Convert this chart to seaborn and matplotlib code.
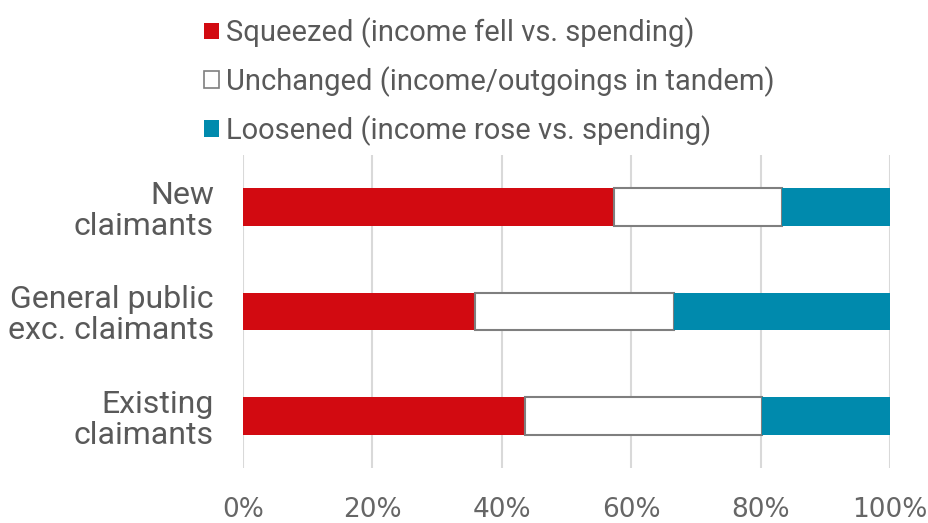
import matplotlib
matplotlib.use("Agg")
import matplotlib.pyplot as plt
from matplotlib.patches import Patch
from matplotlib.ticker import PercentFormatter
import pandas as pd
import seaborn as sns

# values (% of each group)
categories = ["New\nclaimants", "General public\nexc. claimants", "Existing\nclaimants"]
squeezed = [57.4, 35.9, 43.6]
unchanged = [25.9, 30.7, 36.6]
loosened = [16.7, 33.4, 19.8]

series_labels = [
    "Squeezed (income fell vs. spending)",
    "Unchanged (income/outgoings in tandem)",
    "Loosened (income rose vs. spending)",
]
x_ticks = [0, 20, 40, 60, 80, 100]

RED = "#D20A11"
TEAL = "#008AAD"
EDGE_GREY = "#7F7F7F"
TEXT_GREY = "#595959"
TICK_GREY = "#666666"
GRID_GREY = "#D9D9D9"

sns.set_theme(style="white")
plt.rcParams["font.family"] = ["Roboto", "DejaVu Sans"]

df = pd.DataFrame({
    "group": categories,
    "squeezed": squeezed,
    "unchanged": unchanged,
    "loosened": loosened,
})
df["left_unchanged"] = df["squeezed"]
df["left_loosened"] = df["squeezed"] + df["unchanged"]

fig = plt.figure(figsize=(9.29, 5.23), dpi=100)
ax = fig.add_axes([0.2616, 0.1052, 0.6964, 0.5984])

bar_w = 0.36
sns.barplot(data=df, x="squeezed", y="group", orient="h", color=RED,
            saturation=1, width=bar_w, linewidth=0, ax=ax)
sns.barplot(data=df, x="unchanged", y="group", orient="h", color="white",
            saturation=1, width=bar_w, left=df["left_unchanged"].tolist(),
            edgecolor=EDGE_GREY, linewidth=1.5, ax=ax)
sns.barplot(data=df, x="loosened", y="group", orient="h", color=TEAL,
            saturation=1, width=bar_w, left=df["left_loosened"].tolist(),
            linewidth=0, ax=ax)

ax.set_xlim(0, 100)
ax.set_ylim(2.5, -0.5)
ax.set_xticks(x_ticks)
ax.xaxis.set_major_formatter(PercentFormatter(decimals=0))
ax.grid(axis="x", color=GRID_GREY, linewidth=1.5)
ax.set_axisbelow(True)
for side in ["top", "right", "bottom", "left"]:
    ax.spines[side].set_visible(False)
ax.set_xlabel("")
ax.set_ylabel("")

ax.tick_params(axis="x", length=0, pad=21, labelsize=19, labelcolor=TICK_GREY)
ax.tick_params(axis="y", length=0, pad=21, labelsize=23, labelcolor=TEXT_GREY)
for lbl in ax.get_xticklabels():
    lbl.set_family(["Liberation Sans Narrow", "DejaVu Sans"])
for lbl in ax.get_yticklabels():
    lbl.set_horizontalalignment("right")
    lbl.set_multialignment("right")
    lbl.set_linespacing(1.08)

handles = [
    Patch(facecolor=RED, edgecolor=RED, linewidth=0),
    Patch(facecolor="white", edgecolor=EDGE_GREY, linewidth=1.2),
    Patch(facecolor=TEAL, edgecolor=TEAL, linewidth=0),
]
leg = fig.legend(handles, series_labels, loc="upper left",
                 bbox_to_anchor=(0.201, 1.0), frameon=False,
                 fontsize=21, handlelength=0.5, handleheight=0.5,
                 handletextpad=0.25, labelspacing=0.62, borderaxespad=0.2)
for t in leg.get_texts():
    t.set_color(TEXT_GREY)

fig.savefig("out.png", dpi=100)
